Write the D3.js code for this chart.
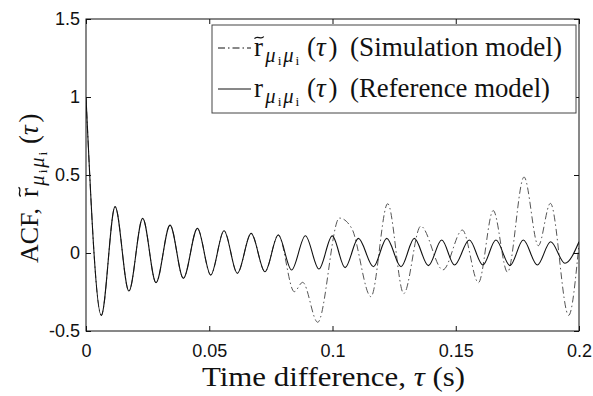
<!DOCTYPE html>
<html><head><meta charset="utf-8">
<script src="https://cdn.jsdelivr.net/npm/d3@7"></script>
<style>body{margin:0;background:#fff}svg{display:block}</style>
</head><body><svg id="c" width="593" height="396"></svg>
<script>
// ---- data ----
const xTicks = [0, 0.05, 0.1, 0.15, 0.2];
const xTickLabels = ["0", "0.05", "0.1", "0.15", "0.2"];
const yTicks = [-0.5, 0, 0.5, 1, 1.5];
const yTickLabels = ["-0.5", "0", "0.5", "1", "1.5"];

// Reference model ACF: extrema
const refTau = [0, 0.0062, 0.0118, 0.0174, 0.0230, 0.0284, 0.0341, 0.0395, 0.0452, 0.0506,
  0.0560, 0.0614, 0.0670, 0.0726, 0.0780, 0.0834, 0.0890, 0.0945, 0.0999, 0.1051,
  0.1105, 0.1166, 0.1220, 0.1278, 0.1332, 0.1389, 0.1443, 0.1495, 0.1555, 0.1610,
  0.1663, 0.1720, 0.1774, 0.1831, 0.1885, 0.1943, 0.2000];
const refVal = [1.0, -0.40, 0.297, -0.244, 0.222, -0.190, 0.179, -0.162, 0.158, -0.141,
  0.143, -0.130, 0.126, -0.120, 0.115, -0.109, 0.111, -0.103, 0.110, -0.094,
  0.094, -0.088, 0.094, -0.088, 0.094, -0.081, 0.083, -0.077, 0.083, -0.077,
  0.083, -0.081, 0.083, -0.077, 0.072, -0.066, 0.072];

// Simulation model ACF
const simTau = [0, 0.0062, 0.0118, 0.0174, 0.0230, 0.0284, 0.0341, 0.0395, 0.0452, 0.0506,
  0.0560, 0.0614, 0.0670, 0.0726, 0.0780, 0.0845, 0.0879, 0.0940, 0.1028, 0.1078,
  0.1156, 0.1224, 0.1289, 0.1358, 0.1448, 0.1527, 0.1592, 0.1652, 0.1710, 0.1777,
  0.1835, 0.1884, 0.1958, 0.2000];
const simVal = [1.0, -0.40, 0.297, -0.244, 0.222, -0.190, 0.179, -0.162, 0.158, -0.141,
  0.143, -0.130, 0.126, -0.120, 0.115, -0.248, -0.188, -0.444, 0.224, 0.158,
  -0.280, 0.316, -0.260, 0.172, -0.108, 0.147, -0.190, 0.272, -0.123, 0.487,
  0.047, 0.318, -0.400, 0.060];

const legendTexts = ["(Simulation model)", "(Reference model)"];
const xLabelText = "Time difference, ";
const yLabelText = "ACF, ";

// ---- drawing ----
const svg = d3.select("#c");
const L = 86, R = 579, T = 19, B = 331;
const x = d3.scaleLinear().domain([0, 0.2]).range([L, R]);
const y = d3.scaleLinear().domain([-0.5, 1.5]).range([B, T]);
const serif = "'Liberation Serif', 'Times New Roman', serif";
const sans = "'Liberation Sans', Arial, sans-serif";

svg.append("clipPath").attr("id", "clip").append("rect")
  .attr("x", L).attr("y", T).attr("width", R - L).attr("height", B - T);

const line = d3.line().x(d => x(d[0])).y(d => y(d[1])).curve(d3.curveMonotoneX);
const simData = simTau.map((t, i) => [t, simVal[i]]);
const refData = refTau.map((t, i) => [t, refVal[i]]);

svg.append("path").datum(simData).attr("clip-path", "url(#clip)")
  .attr("d", line).attr("fill", "none").attr("stroke", "#555")
  .attr("stroke-width", 1).attr("stroke-dasharray", "7,3,1.5,3");
svg.append("path").datum(refData).attr("clip-path", "url(#clip)")
  .attr("d", line).attr("fill", "none").attr("stroke", "#111")
  .attr("stroke-width", 1.1);

// axes
function styleAxis(g) {
  g.select(".domain").remove();
  g.selectAll("line").attr("stroke", "#111");
  g.selectAll("text").attr("font-family", sans).attr("font-size", 18).attr("fill", "#111");
}
svg.append("g").attr("transform", `translate(0,${B})`)
  .call(d3.axisBottom(x).tickValues(xTicks).tickFormat((d, i) => xTickLabels[i])
    .tickSizeInner(-5).tickSizeOuter(0).tickPadding(13)).call(styleAxis);
svg.append("g").attr("transform", `translate(0,${T})`)
  .call(d3.axisTop(x).tickValues(xTicks).tickFormat("")
    .tickSizeInner(-5).tickSizeOuter(0)).call(styleAxis);
svg.append("g").attr("transform", `translate(${L},0)`)
  .call(d3.axisLeft(y).tickValues(yTicks).tickFormat((d, i) => yTickLabels[i])
    .tickSizeInner(-5).tickSizeOuter(0).tickPadding(6)).call(styleAxis);
svg.append("g").attr("transform", `translate(${R},0)`)
  .call(d3.axisRight(y).tickValues(yTicks).tickFormat("")
    .tickSizeInner(-5).tickSizeOuter(0)).call(styleAxis);

svg.append("rect").attr("x", L).attr("y", T).attr("width", R - L).attr("height", B - T)
  .attr("fill", "none").attr("stroke", "#111").attr("stroke-width", 1);

// math label r_{mu_i mu_i}(tau), positions given relative to x0
function drawMath(g, x0, y0, s, tilde) {
  const t = g.append("text").attr("y", y0).attr("font-family", serif).attr("font-size", s).attr("fill", "#111");
  t.append("tspan").attr("x", x0).text("r");
  t.append("tspan").attr("x", x0 + 0.42 * s).attr("dy", 0.24 * s).attr("font-size", 0.76 * s).attr("font-style", "italic").text("μ");
  t.append("tspan").attr("x", x0 + 0.88 * s).attr("dy", 0.10 * s).attr("font-size", 0.5 * s).text("i");
  t.append("tspan").attr("x", x0 + 1.08 * s).attr("dy", -0.10 * s).attr("font-size", 0.76 * s).attr("font-style", "italic").text("μ");
  t.append("tspan").attr("x", x0 + 1.54 * s).attr("dy", 0.10 * s).attr("font-size", 0.5 * s).text("i");
  t.append("tspan").attr("x", x0 + 1.96 * s).attr("dy", -0.34 * s).text("(");
  t.append("tspan").attr("x", x0 + 2.30 * s).attr("font-style", "italic").text("τ");
  t.append("tspan").attr("x", x0 + 2.76 * s).text(")");
  if (tilde) {
    const cx = x0 + 0.19 * s, cy = y0 - 0.68 * s, w = 0.34 * s, a = 0.07 * s;
    g.append("path")
      .attr("d", `M${cx - w / 2},${cy + a * 0.6} C${cx - w / 4},${cy - a * 1.6} ${cx + w / 4},${cy + a * 1.6} ${cx + w / 2},${cy - a * 0.6}`)
      .attr("fill", "none").attr("stroke", "#111").attr("stroke-width", 1.2);
  }
}

// legend
const lg = svg.append("g");
lg.append("rect").attr("x", 212).attr("y", 25).attr("width", 364).attr("height", 88)
  .attr("fill", "#fff").attr("stroke", "#444").attr("stroke-width", 1);
const rows = [{ y: 48, base: 56, dash: "7,3,1.5,3", tilde: true }, { y: 89, base: 97, dash: null, tilde: false }];
rows.forEach((r, i) => {
  const ln = lg.append("line").attr("x1", 218).attr("x2", 251).attr("y1", r.y).attr("y2", r.y)
    .attr("stroke", "#111").attr("stroke-width", 1);
  if (r.dash) ln.attr("stroke-dasharray", r.dash);
  drawMath(lg, 254, r.base, 27, r.tilde);
  lg.append("text").attr("x", 350).attr("y", r.base).attr("font-family", serif).attr("font-size", 27)
    .attr("fill", "#111").attr("textLength", i === 0 ? 212 : 200).attr("lengthAdjust", "spacingAndGlyphs")
    .text(legendTexts[i]);
});

// x label
const xl = svg.append("text").attr("x", 202).attr("y", 386).attr("font-family", serif)
  .attr("font-size", 28).attr("fill", "#111");
xl.append("tspan").text(xLabelText);
xl.append("tspan").attr("font-style", "italic").text("τ");
xl.append("tspan").text(" (s)");
xl.attr("textLength", 263).attr("lengthAdjust", "spacingAndGlyphs");

// y label (rotated)
const yg = svg.append("g").attr("transform", "translate(38,263) rotate(-90)");
yg.append("text").attr("x", 0).attr("y", 0).attr("font-family", serif).attr("font-size", 26)
  .attr("fill", "#111").text(yLabelText);
drawMath(yg, 66, 0, 27, true);
</script></body></html>
